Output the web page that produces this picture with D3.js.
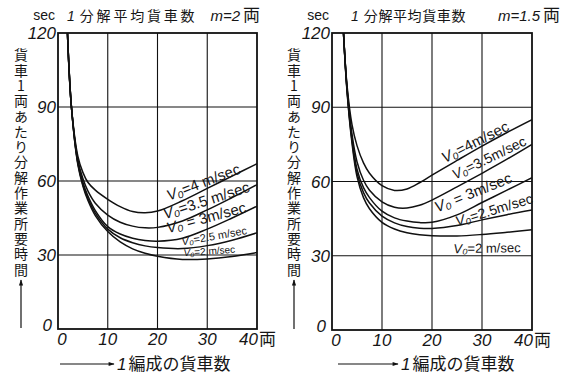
<!DOCTYPE html>
<html>
<head>
<meta charset="utf-8">
<script src="https://d3js.org/d3.v7.min.js"></script>
<style>
  body { margin: 0; background: #fff; }
  text { fill: #161616; }
</style>
</head>
<body>
<div id="vis"></div>
<script>
var xTicks = [0, 10, 20, 30, 40];
var yTicks = [0, 30, 60, 90, 120];
var speeds = ['4', '3.5', '3', '2.5', '2'];

// m = 2 cars per cut
var m2_v4  = [[1.9,120],[2.7,90],[4,70],[5,63.5],[6,59.5],[7.5,56.3],[10,52.6],[12.5,49.6],[15,47.6],[17.5,47.1],[20,47.8],[25,52],[30,57],[35,62],[40,67]];
var m2_v35 = [[1.9,120],[2.7,90],[4,68.5],[5,61],[6,56],[7.5,51],[10,46.2],[12.5,43.3],[15,41.7],[17.5,41],[20,41.2],[25,43.8],[30,48.3],[35,53.3],[40,58.5]];
var m2_v3  = [[1.9,120],[2.7,90],[4,67.5],[5,59.5],[6,54],[7.5,48],[10,41.5],[12.5,38.5],[15,36.8],[17.5,35.9],[20,35.6],[25,36.8],[30,40.5],[35,45],[40,49.8]];
var m2_v25 = [[1.9,120],[2.7,90],[4,67],[5,58.5],[6,53],[7.5,47],[10,40.5],[12.5,37],[15,35],[17.5,33.7],[20,33],[25,32.6],[30,33.8],[35,36],[40,39]];
var m2_v2  = [[1.9,120],[2.7,90],[4,66.5],[5,58],[6,52.2],[7.5,46],[10,39.5],[12.5,35.3],[15,32.5],[17.5,30.7],[20,29.5],[25,28.2],[30,28.4],[35,29.4],[40,31]];

// m = 1.5 cars per cut
var m15_v4  = [[2.3,120],[3,99],[4,83],[5,74.5],[6.3,67.5],[7.5,63.3],[10,58.3],[12.5,56.4],[15,57],[17.5,59.5],[20,62.6],[25,68.5],[30,74.3],[35,79.8],[40,85]];
var m15_v35 = [[2.3,120],[3,98],[4,79],[5,68],[6.3,60.5],[7.5,56.5],[10,51.8],[12.5,49.6],[15,49.3],[17.5,50.4],[20,52.5],[25,57.8],[30,63.3],[35,69],[40,75]];
var m15_v3  = [[2.3,120],[3,97.5],[4,77.5],[5,65],[6.3,57.5],[7.5,53.5],[10,48],[12.5,45.3],[15,44],[17.5,43.4],[20,43.5],[25,46.5],[30,51.5],[35,56.5],[40,61.5]];
var m15_v25 = [[2.3,120],[3,97],[4,76.5],[5,63.5],[6.3,55.5],[7.5,51.3],[10,46],[12.5,43.3],[15,41.8],[17.5,41.1],[20,41],[25,42.2],[30,44.5],[35,46.6],[40,48.5]];
var m15_v2  = [[2.3,120],[3,96.5],[4,75.5],[5,62],[6.3,53.5],[7.5,49],[10,43.5],[12.5,40.8],[15,39.3],[17.5,38.5],[20,38.1],[25,38],[30,38.6],[35,39.5],[40,40.5]];

var yTitle = '貨車1両あたり分解作業所要時間';
var xTitle = '1編成の貨車数';

var width = 569, height = 378;
var svg = d3.select('#vis').append('svg')
  .attr('width', width).attr('height', height)
  .style('font-family', '"Noto Sans CJK JP", sans-serif');

var defs = svg.append('defs');
defs.append('marker')
  .attr('id', 'arr')
  .attr('viewBox', '0 0 10 10')
  .attr('refX', 9).attr('refY', 5)
  .attr('markerWidth', 9).attr('markerHeight', 6)
  .attr('markerUnits', 'userSpaceOnUse')
  .attr('orient', 'auto')
  .append('path').attr('d', 'M0,1.5 L10,5 L0,8.5 Z').attr('fill', '#111');

var numFont = '"Liberation Sans", "DejaVu Sans", sans-serif';

function drawPanel(cfg) {
  var x = d3.scaleLinear().domain([0, 40]).range([cfg.x0, cfg.x1]);
  var y = d3.scaleLinear().domain([0, 120]).range([cfg.y0, cfg.y1]);
  var g = svg.append('g');

  defs.append('clipPath').attr('id', 'clip' + cfg.id)
    .append('rect')
    .attr('x', x(0)).attr('y', y(120))
    .attr('width', x(40) - x(0)).attr('height', y(0) - y(120));

  // grid
  g.selectAll('.vg').data([10, 20, 30]).enter().append('line')
    .attr('x1', d => x(d)).attr('x2', d => x(d))
    .attr('y1', y(0)).attr('y2', y(120))
    .attr('stroke', '#111').attr('stroke-width', 1.1);
  g.selectAll('.hg').data([30, 60, 90]).enter().append('line')
    .attr('x1', x(0)).attr('x2', x(40))
    .attr('y1', d => y(d)).attr('y2', d => y(d))
    .attr('stroke', '#111').attr('stroke-width', 1.1);

  // curves
  var line = d3.line()
    .x(d => x(d[0])).y(d => y(d[1]))
    .curve(d3.curveCatmullRom.alpha(0.5));
  g.append('g').attr('clip-path', 'url(#clip' + cfg.id + ')')
    .selectAll('path').data(cfg.series).enter().append('path')
    .attr('d', line)
    .attr('fill', 'none')
    .attr('stroke', '#111')
    .attr('stroke-width', 1.5);

  // frame
  g.append('rect')
    .attr('x', x(0)).attr('y', y(120))
    .attr('width', x(40) - x(0)).attr('height', y(0) - y(120))
    .attr('fill', 'none').attr('stroke', '#111').attr('stroke-width', 1.8);

  // y tick labels
  g.selectAll('.yt').data(yTicks).enter().append('text')
    .attr('x', d => d === 0 ? x(0) - 6 : x(0) - 2)
    .attr('y', d => d === 0 ? y(d) + 2 : y(d) + 6)
    .attr('text-anchor', 'end')
    .style('font-family', numFont).style('font-style', 'italic')
    .style('font-size', '17px')
    .text(d => d);

  // x tick labels
  g.selectAll('.xt').data(xTicks).enter().append('text')
    .attr('x', d => d === 0 ? x(d) + 4 : (d === 40 ? x(d) + 1 : x(d)))
    .attr('y', y(0) + 16)
    .attr('text-anchor', d => d === 40 ? 'end' : 'middle')
    .style('font-family', numFont).style('font-style', 'italic')
    .style('font-size', '17px')
    .text(d => d);
  g.append('text')
    .attr('x', x(40) + 2).attr('y', y(0) + 16)
    .style('font-size', '17px')
    .text('両');

  // sec + title
  g.append('text')
    .attr('x', x(0) - 3).attr('y', 20)
    .attr('text-anchor', 'end')
    .style('font-family', numFont).style('font-size', '14px')
    .text('sec');
  var t = g.append('text')
    .attr('x', cfg.titleX).attr('y', 21)
    .style('font-size', '14px');
  t.append('tspan').style('font-family', numFont).style('font-style', 'italic').text('1');
  t.append('tspan').attr('dx', cfg.titleGap).style('letter-spacing', cfg.titleLs + 'px').text('分解平均貨車数');
  t.append('tspan').attr('dx', cfg.mGap).style('font-family', numFont).style('font-style', 'italic')
    .style('font-size', '15px').text('m=' + cfg.m);
  t.append('tspan').attr('dx', 3).style('font-size', '17px').text('両');

  // vertical y title
  g.append('text')
    .attr('x', cfg.yTitleX).attr('y', 48)
    .style('writing-mode', 'vertical-rl')
    .style('text-orientation', 'upright')
    .style('letter-spacing', '1.3px')
    .style('font-size', '14px')
    .text(yTitle);
  g.append('line')
    .attr('x1', cfg.yTitleX).attr('x2', cfg.yTitleX)
    .attr('y1', y(0) - 1).attr('y2', 280)
    .attr('stroke', '#111').attr('stroke-width', 1.2)
    .attr('marker-end', 'url(#arr)');

  // x title with arrow
  g.append('line')
    .attr('x1', cfg.arrowX0).attr('x2', cfg.arrowX1)
    .attr('y1', 364).attr('y2', 364)
    .attr('stroke', '#111').attr('stroke-width', 1.2)
    .attr('marker-end', 'url(#arr)');
  var xt = g.append('text')
    .attr('x', cfg.arrowX1 + 3).attr('y', 370)
    .style('font-size', '17px');
  xt.append('tspan').style('font-family', numFont).style('font-style', 'italic').text(xTitle.slice(0, 1));
  xt.append('tspan').attr('dx', 2).text(xTitle.slice(1));

  // curve labels
  cfg.labels.forEach(function (lb) {
    var tx = g.append('text')
      .attr('transform', 'translate(' + x(lb.x) + ',' + y(lb.y) + ') rotate(' + lb.a + ')')
      .attr('text-anchor', 'middle')
      .attr('dy', '0.35em')
      .style('font-family', numFont)
      .style('font-size', lb.s + 'px');
    tx.append('tspan').style('font-style', 'italic').text('V₀');
    tx.append('tspan').text(lb.t);
  });
}

drawPanel({
  id: 'a', x0: 58, x1: 257, y0: 329, y1: 33,
  m: '2', titleX: 67, titleGap: 5, titleLs: 2.8, mGap: 13, yTitleX: 21, arrowX0: 60, arrowX1: 114,
  series: [m2_v4, m2_v35, m2_v3, m2_v25, m2_v2],
  labels: [
    { x: 29.2, y: 59.6, a: -21, s: 15, t: '=' + speeds[0] + ' m/sec' },
    { x: 29.8, y: 52.2, a: -18, s: 15, t: '=' + speeds[1] + ' m/sec' },
    { x: 29.8, y: 45.2, a: -15, s: 15, t: ' = ' + speeds[2] + 'm/sec' },
    { x: 31.4, y: 37.7, a: -10, s: 11, t: '=' + speeds[3] + ' m/sec' },
    { x: 30.4, y: 31.6, a: -4, s: 10, t: '=' + speeds[4] + ' m/sec' }
  ]
});

drawPanel({
  id: 'b', x0: 332, x1: 532, y0: 330, y1: 33,
  m: '1.5', titleX: 351, titleGap: 5, titleLs: 0.6, mGap: 32, yTitleX: 294, arrowX0: 338, arrowX1: 398,
  series: [m15_v4, m15_v35, m15_v3, m15_v25, m15_v2],
  labels: [
    { x: 28.6, y: 76.0, a: -27, s: 15, t: '=' + speeds[0] + 'm/sec' },
    { x: 31.4, y: 69.6, a: -26, s: 14, t: '=' + speeds[1] + 'm/sec' },
    { x: 28.2, y: 55.6, a: -22, s: 15, t: ' = ' + speeds[2] + 'm/sec' },
    { x: 32.4, y: 48.6, a: -17, s: 14, t: '=' + speeds[3] + 'm/sec' },
    { x: 31.0, y: 33.1, a: -1, s: 13, t: '=' + speeds[4] + ' m/sec' }
  ]
});
</script>
</body>
</html>
